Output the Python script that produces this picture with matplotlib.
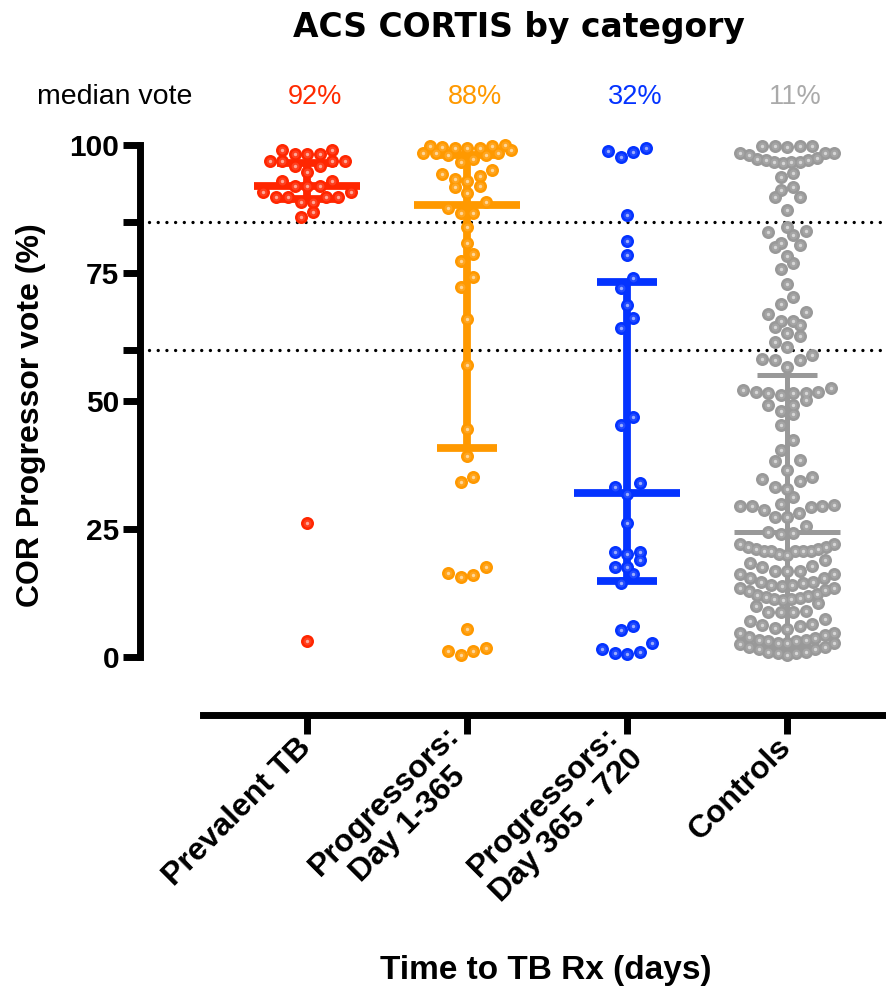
import numpy as np
import matplotlib
matplotlib.use("Agg")
import matplotlib.pyplot as plt
from matplotlib.colors import to_rgb
from matplotlib.transforms import blended_transform_factory

plt.rcParams['font.family'] = ['Liberation Sans', 'DejaVu Sans']

# ---------------- data ----------------
categories = ["Prevalent TB", "Progressors:\nDay 1-365", "Progressors:\nDay 365 - 720", "Controls"]
colors = ["#FF2600", "#FF9900", "#0433FF", "#999999"]
median_labels = ["92%", "88%", "32%", "11%"]
median_label_colors = ["#FF2A00", "#FF9900", "#0433FF", "#AAAAAA"]

prevalent_tb = [99.0, 99.0, 98.2, 98.2, 98.2, 96.9, 96.9, 96.9, 96.9, 95.9, 95.9, 94.8,
                93.0, 93.0, 92.0, 92.0, 92.0, 90.9, 90.9, 89.9, 89.9, 89.9, 89.9, 88.9,
                88.9, 87.0, 86.0, 26.2, 3.1]

prog_1_365 = [100.0, 99.8, 99.8, 99.7, 99.5, 99.5, 99.5, 99.0, 98.5, 98.5, 98.5, 98.0,
              98.0, 97.2, 96.7, 95.1, 94.3, 93.9, 93.3, 93.0, 92.0, 91.7, 90.6, 88.9,
              87.6, 86.8, 86.8, 83.9, 80.8, 78.7, 77.4, 74.3, 72.2, 66.1, 57.0, 44.5,
              39.3, 35.1, 34.2, 17.6, 16.5, 16.1, 15.6, 5.5, 1.7, 1.2, 1.2, 0.4]

prog_365_720 = [99.4, 98.9, 98.6, 97.6, 86.3, 81.3, 78.5, 74.0, 72.0, 68.8, 66.2, 64.3,
                46.9, 45.3, 34.0, 33.2, 31.8, 26.2, 20.6, 20.6, 20.2, 18.9, 17.5, 17.5,
                16.3, 14.5, 6.0, 5.2, 2.8, 1.6, 0.9, 0.8, 0.5]

controls = [99.8, 99.9, 99.6, 99.8, 99.9,
            98.5, 98.5, 97.4, 97.0, 96.7, 96.7, 96.4, 96.7, 97.2, 97.0, 98.1, 98.5,
            93.8, 94.6, 91.7, 91.3, 89.8, 89.8, 87.4,
            83.1, 83.9, 82.4, 83.2, 80.0, 80.9, 80.5, 78.3, 76.9, 75.7, 72.9, 70.4,
            68.9, 67.4, 66.9, 64.8, 65.7, 65.7, 64.5, 63.2, 62.6, 61.6, 60.6, 59.0,
            58.0, 56.6, 58.0, 58.3,
            52.5, 51.8, 51.5, 51.2, 52.1, 51.5, 51.5, 51.8,
            49.2, 48.1, 47.5, 49.2, 50.1, 45.3, 42.4, 40.5, 38.5, 38.3, 36.5, 34.7,
            35.1, 33.3, 32.8, 34.4, 31.2,
            29.5, 29.5, 28.7, 29.9, 28.2, 29.2, 29.5, 29.7, 27.3, 27.3, 25.6, 24.5,
            24.0, 24.3,
            22.1, 21.5, 21.0, 20.8, 20.8, 20.2, 19.9, 20.8, 20.8, 20.8, 21.0, 21.5, 22.1,
            18.9, 17.8, 16.7, 17.5, 18.3,
            16.7, 16.2, 15.4, 14.7, 14.1, 13.9, 14.1, 14.5, 14.7, 15.4, 16.2, 16.7,
            13.4, 13.0, 12.2, 11.8, 11.4, 11.2, 11.3, 11.6, 12.0, 12.4, 12.9, 13.4,
            10.5, 10.0, 8.9, 8.7, 8.7, 8.7,
            7.4, 6.5, 6.0, 5.5, 5.7, 6.2, 7.1,
            4.7, 4.0, 3.4, 3.2, 2.8, 2.7, 2.5, 2.8, 3.2, 3.4, 3.8, 4.2, 4.7,
            2.0, 1.6, 1.0, 0.8, 0.4, 0.8, 1.0, 1.6, 2.0]

groups = [prevalent_tb, prog_1_365, prog_365_720, controls]

center_line = [92.0, 88.2, 32.0, 24.4]
lower_bar = [89.5, 40.8, 14.8, 2.0]
upper_bar = [96.5, 98.0, 73.2, 55.0]
thresholds = [60, 85]

# ---------------- figure ----------------
W, H = 886, 991
fig = plt.figure(figsize=(W / 100, H / 100), dpi=100)

ax_left_px, ax_right_px = 140, 886
ax_bottom_px, ax_top_px = 715, 130
y0_px, y100_px = 657, 145
ppu_y = (y0_px - y100_px) / 100.0           # pixels per y unit
cat0_px, cat_step_px = 307, 160              # category spacing in pixels

ymin = -(ax_bottom_px - y0_px) / ppu_y
ymax = 100 + (y100_px - ax_top_px) / ppu_y
xmin = -(cat0_px - ax_left_px) / cat_step_px
xmax = (ax_right_px - cat0_px) / cat_step_px

ax = fig.add_axes([ax_left_px / W, 1 - ax_bottom_px / H,
                   (ax_right_px - ax_left_px) / W, (ax_bottom_px - ax_top_px) / H])
ax.set_xlim(xmin, xmax)
ax.set_ylim(ymin, ymax)


def swarm(values, row_h, spacing_px, max_w_px):
    v = np.sort(np.asarray(values, dtype=float))
    rows, cur = [], [v[0]]
    for val in v[1:]:
        if val - cur[0] < row_h:
            cur.append(val)
        else:
            rows.append(cur)
            cur = [val]
    rows.append(cur)
    xs, ys = [], []
    for r in rows:
        n = len(r)
        s = spacing_px if n <= 1 else min(spacing_px, max_w_px / (n - 1))
        if n % 2:
            slots = [0.0]
            k = 1
            while len(slots) < n:
                slots += [-k, k]
                k += 1
        else:
            slots = []
            k = 0.5
            while len(slots) < n:
                slots += [-k, k]
                k += 1
        slots = slots[:n]
        for val, sl in zip(r, slots):
            xs.append(sl * s)
            ys.append(val)
    return np.array(xs), np.array(ys)


def lighten(c, f):
    r, g, b = to_rgb(c)
    return (r + (1 - r) * f, g + (1 - g) * f, b + (1 - b) * f)


marker_px = 13
for i, (vals, col) in enumerate(zip(groups, colors)):
    dx_px, yy = swarm(vals, row_h=2.4, spacing_px=12.5, max_w_px=94)
    xx = i + dx_px / cat_step_px
    d_pt = marker_px * 72 / 100
    ax.scatter(xx, yy, s=d_pt ** 2, color=col, linewidths=0, zorder=4, clip_on=False)
    ax.scatter(xx, yy, s=(d_pt * 0.6) ** 2, color=lighten(col, 0.12), linewidths=0,
               zorder=5, clip_on=False)
    ax.scatter(xx, yy, s=(d_pt * 0.26) ** 2, color=lighten(col, 0.6), linewidths=0,
               zorder=6, clip_on=False)

# error bars (median + range)
for i, col in enumerate(colors):
    lw = 3.6 if i == 3 else 5.6
    ax.plot([i, i], [lower_bar[i], upper_bar[i]], color=col, lw=lw,
            solid_capstyle='butt', zorder=3)
    for yv in (lower_bar[i], upper_bar[i]):
        ax.plot([i - 0.19, i + 0.19], [yv, yv], color=col, lw=lw,
                solid_capstyle='butt', zorder=3)
    ax.plot([i - 0.33, i + 0.33], [center_line[i], center_line[i]], color=col, lw=lw,
            solid_capstyle='butt', zorder=3)

# threshold dotted lines
for t in thresholds:
    ax.plot([xmin + 9 / cat_step_px, xmax], [t, t], color='black', lw=2.4,
            linestyle=(0, (0.01, 2.6)), dash_capstyle='round', zorder=2, clip_on=False)

# spines and ticks
for s in ('top', 'right'):
    ax.spines[s].set_visible(False)
ax.spines['left'].set_linewidth(5)
ax.spines['bottom'].set_linewidth(5)
ax.spines['left'].set_bounds(0, 100)
ax.spines['bottom'].set_bounds((203 - cat0_px) / cat_step_px, xmax)
ax.spines['left'].set_capstyle('projecting')

ax.set_yticks([0, 25, 50, 75, 100])
ax.set_yticks(thresholds, minor=True)
ax.tick_params(axis='y', which='both', direction='out', length=12, width=5, pad=3,
               labelsize=21.5)
ax.tick_params(axis='y', which='minor', labelleft=False)
for lab in ax.get_yticklabels():
    lab.set_fontweight('bold')

ax.set_xticks(range(len(categories)))
ax.set_xticklabels(categories, rotation=45, ha='right', va='center',
                   rotation_mode='anchor', multialignment='center',
                   fontsize=23, fontweight='bold', linespacing=1.15)
ax.tick_params(axis='x', direction='out', length=14, width=5, pad=6)

# texts
fig.text(37 / W, 1 - 97 / H, "median vote", fontsize=20.5, ha='left', va='center')
trans = blended_transform_factory(ax.transData, fig.transFigure)
for i, (lab, c) in enumerate(zip(median_labels, median_label_colors)):
    ax.text(i + 0.05, 1 - 97 / H, lab, transform=trans, color=c, fontsize=19.5,
            ha='center', va='center', clip_on=False)

fig.text(519 / W, 1 - 28 / H, "ACS CORTIS by category", fontsize=23.8, fontweight='bold',
         ha='center', va='center', family=['DejaVu Sans'])
fig.text(31 / W, 1 - 415 / H, "COR Progressor vote (%)", fontsize=23, fontweight='bold',
         rotation=90, ha='center', va='center')
fig.text(546 / W, 1 - 970 / H, "Time to TB Rx (days)", fontsize=24, fontweight='bold',
         ha='center', va='center')

fig.savefig("out.png", dpi=100)
